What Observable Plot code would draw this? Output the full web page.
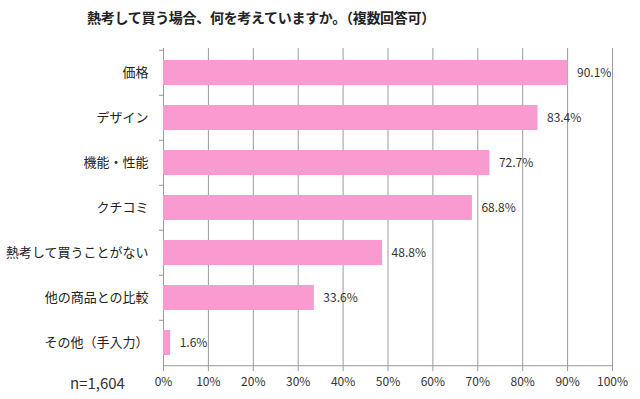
<!DOCTYPE html>
<html>
<head>
<meta charset="utf-8">
<script src="https://cdn.jsdelivr.net/npm/d3@7"></script>
<script src="https://cdn.jsdelivr.net/npm/@observablehq/plot@0.6"></script>
<style>
  html, body { margin: 0; padding: 0; background: #fff; }
  #wrap { position: relative; width: 640px; height: 399px; font-family: "Noto Sans CJK JP", "Noto Sans", sans-serif; }
  #title { height: 40px; width: 522px; text-align: center; font-size: 14px; font-weight: bold; color: #222; line-height: 35px; letter-spacing: -0.3px; }
  #note { position: absolute; left: 70px; top: 372px; font-size: 15px; color: #333; }
</style>
</head>
<body>
<div id="wrap">
  <div id="title">熱考して買う場合、何を考えていますか。（複数回答可）</div>
  <div id="chart"></div>
  <div id="note">n=1,604</div>
</div>
<script>
const categories = ["価格", "デザイン", "機能・性能", "クチコミ", "熱考して買うことがない", "他の商品との比較", "その他（手入力）"];
const values = [90.1, 83.4, 72.7, 68.8, 48.8, 33.6, 1.6];
const xTicks = [0, 10, 20, 30, 40, 50, 60, 70, 80, 90, 100];

const data = categories.map((c, i) => ({ category: c, value: values[i] }));

const W = 640, H = 359, mt = 8, mb = 33, ml = 163, mr = 28;
const step = (H - mt - mb) / categories.length;

const chart = Plot.plot({
  width: W,
  height: H,
  marginTop: mt,
  marginBottom: mb,
  marginLeft: ml,
  marginRight: mr,
  style: { fontFamily: "'Noto Sans CJK JP', 'Noto Sans', sans-serif", color: "#333", background: "#fff" },
  x: { domain: [0, 100], ticks: xTicks, tickFormat: d => d + "%" },
  y: { domain: categories, paddingInner: 0.45, paddingOuter: 0.225 },
  marks: [
    Plot.ruleX(xTicks, { stroke: "#9a9a9a", strokeWidth: 1 }),
    Plot.ruleY(categories, { y: d => d, x1: 0, x2: 0, insetLeft: -4, dy: -step / 2, stroke: "#9a9a9a" }),
    Plot.barX(data, { x: "value", y: "category", fill: "#F99BD1" }),
    Plot.text(data, { x: "value", y: "category", text: d => d.value.toFixed(1) + "%", textAnchor: "start", dx: 9, fontSize: 12, fill: "#333" }),
    Plot.ruleY([0], { y: () => categories[categories.length - 1], dy: step / 2, x1: 0, x2: 100, stroke: "#9a9a9a" }),
    Plot.axisX({ ticks: xTicks, tickFormat: d => d + "%", tickSize: 5, tickPadding: 6, stroke: "#9a9a9a", color: "#333", fontSize: 12, label: null }),
    Plot.axisY({ tickSize: 0, tickPadding: 15, fontSize: 13, color: "#222", label: null })
  ]
});
document.getElementById("chart").appendChild(chart);
</script>
</body>
</html>
